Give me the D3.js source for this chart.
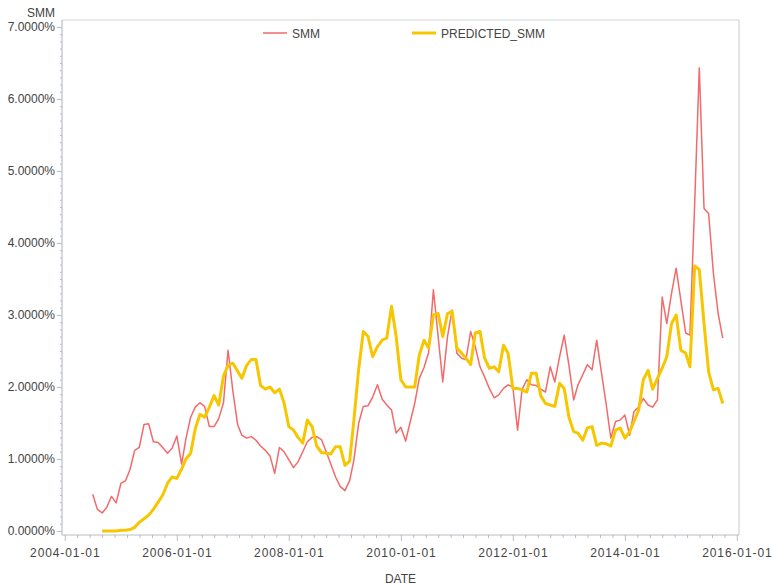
<!DOCTYPE html>
<html>
<head>
<meta charset="utf-8">
<script src="https://cdn.jsdelivr.net/npm/d3@7"></script>
<style>
  html, body { margin: 0; padding: 0; background: #fff; }
  svg { display: block; font-family: Arial, "Liberation Sans", sans-serif; }
</style>
</head>
<body>
<svg id="chart" width="773" height="585"></svg>
<script>
// Monthly prepayment rate (SMM, %) and model prediction
const smmStart = "2004-07-01";
const smmValues = [
  0.51, 0.30, 0.25, 0.33, 0.48, 0.39, 0.66, 0.70, 0.85, 1.12, 1.16, 1.48,
  1.49, 1.24, 1.23, 1.16, 1.08, 1.15, 1.32, 0.93, 1.28, 1.58, 1.72, 1.78,
  1.73, 1.45, 1.45, 1.56, 1.78, 2.51, 1.95, 1.48, 1.33, 1.29, 1.31, 1.26,
  1.18, 1.12, 1.04, 0.80, 1.16, 1.10, 0.99, 0.88, 0.96, 1.10, 1.24, 1.30,
  1.31, 1.27, 1.10, 0.93, 0.75, 0.62, 0.56, 0.70, 0.99, 1.50, 1.73, 1.74,
  1.86, 2.03, 1.83, 1.75, 1.68, 1.36, 1.44, 1.25, 1.50, 1.77, 2.12, 2.27,
  2.48, 3.35, 2.70, 2.07, 2.70, 3.07, 2.47, 2.40, 2.38, 2.77, 2.56, 2.28,
  2.14, 1.98, 1.85, 1.89, 1.98, 2.03, 2.00, 1.40, 1.96, 2.10, 2.03, 2.02,
  1.97, 1.93, 2.28, 2.07, 2.42, 2.72, 2.30, 1.82, 2.03, 2.17, 2.31, 2.24,
  2.65, 2.20, 1.76, 1.29, 1.52, 1.54, 1.61, 1.33, 1.66, 1.72, 1.84, 1.75,
  1.72, 1.82, 3.25, 2.88, 3.30, 3.65, 3.20, 2.75, 2.72, 4.55, 6.43, 4.48,
  4.41, 3.58, 3.02, 2.68
];

const predStart = "2004-09-01";
const predValues = [
  0.00, 0.00, 0.00, 0.00, 0.01, 0.01, 0.02, 0.05, 0.12, 0.17, 0.22, 0.30,
  0.40, 0.50, 0.66, 0.75, 0.73, 0.86, 1.00, 1.08, 1.42, 1.62, 1.58, 1.72,
  1.88, 1.75, 2.15, 2.30, 2.33, 2.22, 2.12, 2.30, 2.38, 2.38, 2.02, 1.97,
  2.00, 1.92, 1.97, 1.78, 1.45, 1.40, 1.30, 1.22, 1.54, 1.45, 1.18, 1.09,
  1.08, 1.07, 1.17, 1.17, 0.91, 0.97, 1.55, 2.25, 2.77, 2.70, 2.42, 2.56,
  2.65, 2.68, 3.12, 2.70, 2.10, 2.00, 2.00, 2.00, 2.44, 2.65, 2.54, 3.00,
  3.02, 2.70, 3.02, 3.05, 2.54, 2.47, 2.40, 2.31, 2.75, 2.77, 2.40, 2.26,
  2.28, 2.21, 2.58, 2.47, 1.98, 1.98, 1.96, 1.93, 2.19, 2.19, 1.88, 1.77,
  1.75, 1.73, 2.05, 1.98, 1.58, 1.38, 1.36, 1.26, 1.43, 1.45, 1.19, 1.22,
  1.21, 1.18, 1.40, 1.43, 1.29, 1.38, 1.52, 1.68, 2.10, 2.23, 1.97, 2.12,
  2.26, 2.42, 2.88, 3.00, 2.51, 2.47, 2.28, 3.68, 3.63, 2.88, 2.21, 1.96,
  1.98, 1.77
];

const seriesNames = ["SMM", "PREDICTED_SMM"];
const seriesColors = ["#f26a6a", "#f6c700"];
const xTickYears = [2004, 2006, 2008, 2010, 2012, 2014, 2016];
const yTickValues = [0, 1, 2, 3, 4, 5, 6, 7];
const yAxisTitle = "SMM";
const xAxisTitle = "DATE";

const parse = d3.timeParse("%Y-%m-%d");
const fmtDate = d3.timeFormat("%Y-%m-%d");
const toSeries = (start, values) =>
  values.map((v, i) => ({ date: d3.timeMonth.offset(parse(start), i), value: v }));

const smm = toSeries(smmStart, smmValues);
const pred = toSeries(predStart, predValues);

const svg = d3.select("#chart");
const plot = { left: 62, right: 739, top: 20, bottom: 535 };

const x = d3.scaleTime()
  .domain([parse("2003-12-14"), parse("2016-01-15")])
  .range([plot.left, plot.right]);
const y = d3.scaleLinear()
  .domain([-0.056, 7.097])
  .range([plot.bottom, plot.top]);

const axisColor = "#b9bec4";
const textColor = "#444";

// plot frame (top and right edges)
svg.append("path")
  .attr("d", `M${plot.left},${plot.top}H${plot.right}V${plot.bottom}`)
  .attr("fill", "none")
  .attr("stroke", "#cfd3d7")
  .attr("stroke-width", 1.2);

// x axis: major ticks every two years, minor ticks between them
const majorDates = xTickYears.map(yr => new Date(yr, 0, 1));
const minorDates = [];
for (let i = 0; i < majorDates.length - 1; i++) {
  const t0 = +majorDates[i], t1 = +majorDates[i + 1];
  for (let k = 1; k < 9; k++) minorDates.push(new Date(t0 + (t1 - t0) * k / 9));
}

const xAxisG = svg.append("g").attr("transform", `translate(0,${plot.bottom})`);
xAxisG.call(d3.axisBottom(x).tickValues(majorDates).tickFormat(fmtDate).tickSizeInner(6).tickSizeOuter(0));
xAxisG.append("g").call(d3.axisBottom(x).tickValues(minorDates).tickFormat("").tickSizeInner(3).tickSizeOuter(0))
  .select(".domain").remove();
xAxisG.selectAll(".domain").attr("stroke", axisColor).attr("stroke-width", 1.2)
  .attr("d", `M${plot.left},0H${plot.right}`);
xAxisG.selectAll(".tick line").attr("stroke", axisColor);
xAxisG.selectAll(".tick text")
  .attr("fill", textColor)
  .attr("font-size", 12)
  .attr("letter-spacing", 0.9)
  .attr("dy", "1.05em")
  .attr("font-family", "Arial, 'Liberation Sans', sans-serif");

// y axis: percent labels with minor ticks every 0.1%
const yMinor = d3.range(0, 71).map(d => d / 10).filter(d => d % 1 !== 0);
const yAxisG = svg.append("g").attr("transform", `translate(${plot.left},0)`);
yAxisG.call(d3.axisLeft(y).tickValues(yTickValues).tickFormat(d => d3.format(".4f")(d) + "%").tickSizeInner(5).tickSizeOuter(0));
yAxisG.append("g").call(d3.axisLeft(y).tickValues(yMinor).tickFormat("").tickSizeInner(2).tickSizeOuter(0))
  .select(".domain").remove();
yAxisG.selectAll(".domain").attr("stroke", axisColor).attr("stroke-width", 1.2)
  .attr("d", `M0,${plot.bottom}V${plot.top}`);
yAxisG.selectAll(".tick line").attr("stroke", axisColor);
yAxisG.selectAll(".tick text")
  .attr("fill", textColor)
  .attr("font-size", 12)
  .attr("x", -7)
  .attr("font-family", "Arial, 'Liberation Sans', sans-serif");

// axis titles
svg.append("text")
  .attr("x", 55).attr("y", 17)
  .attr("text-anchor", "end")
  .attr("font-size", 12)
  .attr("fill", textColor)
  .text(yAxisTitle);
svg.append("text")
  .attr("x", (plot.left + plot.right) / 2).attr("y", 583)
  .attr("text-anchor", "middle")
  .attr("font-size", 12)
  .attr("fill", textColor)
  .text(xAxisTitle);

// series lines
const line = d3.line().x(d => x(d.date)).y(d => y(d.value));
svg.append("path").datum(smm)
  .attr("d", line)
  .attr("fill", "none")
  .attr("stroke", seriesColors[0])
  .attr("stroke-width", 1.5)
  .attr("stroke-linejoin", "round");
svg.append("path").datum(pred)
  .attr("d", line)
  .attr("fill", "none")
  .attr("stroke", seriesColors[1])
  .attr("stroke-width", 3)
  .attr("stroke-linejoin", "round");

// legend
const legendItems = [
  { name: seriesNames[0], color: seriesColors[0], width: 1.5, x: 263 },
  { name: seriesNames[1], color: seriesColors[1], width: 3, x: 412 }
];
const lg = svg.append("g").attr("class", "legend");
legendItems.forEach(it => {
  lg.append("line")
    .attr("x1", it.x).attr("x2", it.x + 24)
    .attr("y1", 33).attr("y2", 33)
    .attr("stroke", it.color)
    .attr("stroke-width", it.width);
  lg.append("text")
    .attr("x", it.x + 29).attr("y", 37.5)
    .attr("font-size", 12)
    .attr("fill", textColor)
    .text(it.name);
});
</script>
</body>
</html>
